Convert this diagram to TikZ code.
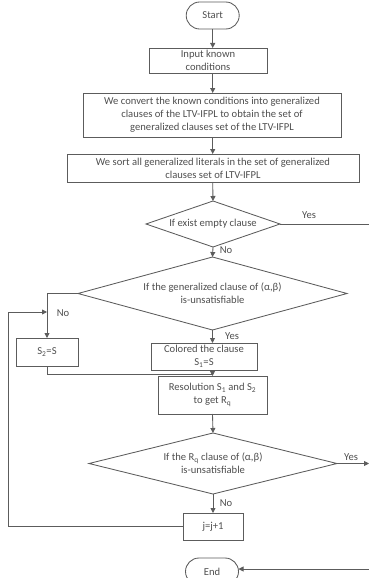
\documentclass[tikz,border=0pt]{standalone}
\usepackage{fontspec}
\setmainfont{Carlito}
\usetikzlibrary{arrows.meta,shapes.misc,shapes.geometric}
\definecolor{ink}{RGB}{92,92,92}
\definecolor{txt}{RGB}{78,78,78}
\begin{document}
\begin{tikzpicture}[x=1pt,y=-1pt,
  font=\fontsize{10.6}{12.8}\selectfont, text=txt,
  every node/.style={inner sep=0pt, outer sep=0pt},
  line/.style={draw=ink, line width=0.85pt},
  arr/.style={line, -{Triangle[length=5pt,width=5pt]}},
  box/.style={draw=ink, line width=0.85pt, rectangle, align=center},
  term/.style={draw=ink, line width=0.85pt, rounded rectangle, minimum width=53pt, minimum height=27pt},
  dia/.style={draw=ink, line width=0.85pt, diamond},
  lbl/.style={font=\fontsize{10.6}{12}\selectfont}
]
\useasboundingbox (0,0) rectangle (369,578);
\clip (0,0) rectangle (369,578);

% main column
\node[term] (start) at (212.7,15.5) {Start};
\node[box, minimum width=118pt, minimum height=25pt] (input) at (208,60.5) {Input known\\conditions};
\node[box, minimum width=258pt, minimum height=44pt] (conv) at (212,115)
  {We convert the known conditions into generalized\\clauses of the LTV-IFPL to obtain the set of\\generalized clauses set of the LTV-IFPL};
\node[box, minimum width=292pt, minimum height=28pt] (sort) at (213,168)
  {We sort all generalized literals in the set of generalized\\clauses set of LTV-IFPL};

\node[dia, minimum width=134pt, minimum height=46pt] (d1) at (213,224) {};
\node (d1t) at (d1.center) {If exist empty clause};

\node[dia, minimum width=269pt, minimum height=73pt] (d2) at (212.5,293.5) {};
\node[align=center] (d2t) at (d2.center) {If the generalized clause of (α,β)\\is-unsatisfiable};

\node[box, minimum width=62pt, minimum height=28pt] (s2) at (47,352) {S\textsubscript{2}=S};
\node[box, minimum width=106pt, minimum height=27pt] (col) at (204,356.5) {Colored the clause\\S\textsubscript{1}=S};
\node[box, minimum width=109pt, minimum height=38pt] (res) at (212.5,395)
  {Resolution S\textsubscript{1} and S\textsubscript{2}\\to get R\textsubscript{q}};

\node[dia, minimum width=248pt, minimum height=61pt] (d3) at (213,463.5) {};
\node[align=center] (d3t) at (d3.center) {If the R\textsubscript{q} clause of (α,β)\\is-unsatisfiable};

\node[box, minimum width=60pt, minimum height=27pt] (jbox) at (213,526.5) {j=j+1};
\node[term] (end) at (212,571.5) {End};

% free ends on the right margin and the loop corners
\coordinate (r1) at (369,224);
\coordinate (r3) at (369,463.5);
\coordinate (r4) at (369,569);
\coordinate (join) at (212.7,374);
\coordinate (loopa) at (8,526.5);
\coordinate (loopb) at (8,312);

% connectors
\draw[arr] (start.south) -- (start.south |- input.north);
\draw[arr] (start.south |- input.south) -- (start.south |- conv.north);
\draw[arr] (start.south |- conv.south) -- (start.south |- sort.north);
\draw[arr] (start.south |- sort.south) -- (d1.north);
\draw[arr] (d1.south) -- (d2.north);
\draw[line] (d1.east) -- (r1);
\draw[arr] (d2.west) -- (s2.north |- d2.west) -- (s2.north);
\draw[arr] (d2.south) -- (d2.south |- col.north);
\draw[arr] (d2.south |- col.south) -- (d2.south |- res.north);
\draw[line] (s2.south) -- (s2.south |- join) -- (join);
\draw[arr] (res.south) -- (d3.north);
\draw[arr] (d3.east) -- (r3);
\draw[arr] (d3.south) -- (jbox.north);
\draw[arr] (jbox.west) -- (loopa) -- (loopb) -- (s2.north |- loopb);
\draw[arr] (r4) -- (end.east |- r4);

% branch labels
\node[lbl] (y1) at (309,215) {Yes};
\node[lbl] (n1) at (226,250.5) {No};
\node[lbl] (n2) at (63,313) {No};
\node[lbl] (y2) at (232,336) {Yes};
\node[lbl] (y3) at (351,457) {Yes};
\node[lbl] (n3) at (226,503) {No};
\end{tikzpicture}
\end{document}
